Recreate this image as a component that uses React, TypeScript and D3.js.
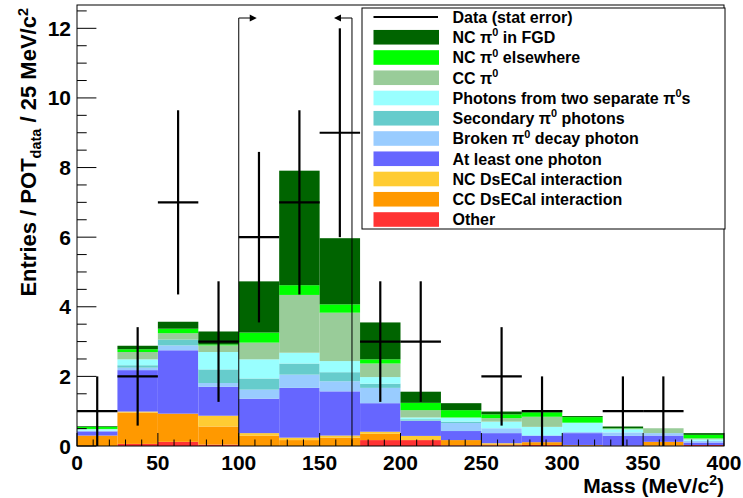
import React from 'react';
import * as d3 from 'd3';

const binLow = [0, 25, 50, 75, 100, 125, 150, 175, 200, 225, 250, 275, 300, 325, 350, 375];
const binWidth = 25;

// per-component values (stacked bottom -> top)
const other        = [0,    0.06, 0.12, 0.04, 0,    0,    0,    0.17, 0.17, 0.02, 0.02, 0.03, 0.01, 0.01, 0.01, 0.03];
const ccDsECal     = [0.30, 0.90, 0.81, 0.52, 0.30, 0.17, 0.24, 0.18, 0,    0.15, 0.03, 0.08, 0.02, 0,    0.11, 0];
const ncDsECal     = [0,    0.03, 0,    0.31, 0.07, 0.07, 0.06, 0.06, 0.12, 0,    0.03, 0,    0,    0,    0,    0];
const atLeastOne   = [0.12, 1.19, 1.82, 0.83, 0.99, 1.43, 1.27, 0.82, 0.43, 0.26, 0.29, 0.19, 0.34, 0.28, 0.18, 0.07];
const brokenDecay  = [0.02, 0.07, 0.14, 0.11, 0.26, 0.38, 0.29, 0.44, 0.01, 0.23, 0.14, 0,    0.03, 0.10, 0.07, 0.05];
const secondary    = [0,    0.07, 0.17, 0.39, 0.32, 0.32, 0.26, 0.12, 0.04, 0.04, 0,    0,    0,    0,    0,    0];
const twoSeparate  = [0.04, 0.17, 0,    0.50, 0.55, 0.31, 0.32, 0.19, 0.05, 0.11, 0.19, 0.25, 0.27, 0.09, 0,    0.04];
const ccPi0        = [0.01, 0.21, 0.18, 0.19, 0.48, 1.66, 1.39, 0.39, 0.21, 0.01, 0.10, 0.29, 0,    0.02, 0.14, 0.03];
const ncElsewhere  = [0.06, 0.08, 0.13, 0.03, 0.29, 0.28, 0.24, 0.12, 0.21, 0.21, 0.11, 0.13, 0.16, 0.01, 0,    0.10];
const ncFGD        = [0.02, 0.10, 0.20, 0.37, 1.47, 3.29, 1.90, 1.06, 0.32, 0.20, 0.08, 0.06, 0.03, 0.05, 0,    0.05];

const dataCounts = [1, 2, 7, 3, 6, 7, 9, 3, 3, 0, 2, 1, 0, 1, 1, 0];

const seriesKeys = ['other', 'ccDsECal', 'ncDsECal', 'atLeastOne', 'brokenDecay', 'secondary', 'twoSeparate', 'ccPi0', 'ncElsewhere', 'ncFGD'];
const seriesValues = [other, ccDsECal, ncDsECal, atLeastOne, brokenDecay, secondary, twoSeparate, ccPi0, ncElsewhere, ncFGD];
const seriesColors = ['#ff3333', '#ff9900', '#ffcc33', '#6666ff', '#99ccff', '#66cccc', '#99ffff', '#99cc99', '#00ff00', '#006400'];

const legendLabels = [
  'Data (stat error)',
  'NC π^0 in FGD',
  'NC π^0 elsewhere',
  'CC π^0',
  'Photons from two separate π^0s',
  'Secondary π^0 photons',
  'Broken π^0 decay photon',
  'At least one photon',
  'NC DsECal interaction',
  'CC DsECal interaction',
  'Other',
];
const legendColors = [null, '#006400', '#00ff00', '#99cc99', '#99ffff', '#66cccc', '#99ccff', '#6666ff', '#ffcc33', '#ff9900', '#ff3333'];

const xTicksMajor = [0, 50, 100, 150, 200, 250, 300, 350, 400];
const yTicksMajor = [0, 2, 4, 6, 8, 10, 12];
const cutLow = 100;
const cutHigh = 170;

const W = 743, H = 498;
const FONT = 'Liberation Sans, Arial, Helvetica, sans-serif';

function SupLabel({ text, size }: { text: string; size: number }) {
  const parts = text.split('^0');
  const out: any[] = [];
  parts.forEach((p, i) => {
    if (i > 0) {
      out.push(<tspan key={'s' + i} dy={-size * 0.42} fontSize={size * 0.68}>0</tspan>);
      out.push(<tspan key={'p' + i} dy={size * 0.42}>{p}</tspan>);
    } else {
      out.push(<tspan key={'p' + i}>{p}</tspan>);
    }
  });
  return <>{out}</>;
}

export default function App() {
  const x = d3.scaleLinear().domain([0, 400]).range([77, 724]);
  const y = d3.scaleLinear().domain([0, 12.67]).range([446, 5]);

  const table = binLow.map((lo, i) => {
    const row: any = { lo };
    seriesKeys.forEach((k, j) => (row[k] = seriesValues[j][i]));
    return row;
  });
  const stacked = d3.stack().keys(seriesKeys)(table);

  const xMinor = d3.range(0, 401, 10);
  const yMinor = d3.range(0, 12.6, 0.5);

  const legX = 362, legY = 8, legW = 363, legH = 221;
  const rowH = 20.25;

  return (
    <svg width={W} height={H} style={{ position: 'absolute', left: 0, top: 0, background: '#fff' }} fontFamily={FONT}>
      <rect x={0} y={0} width={W} height={H} fill="#fff" />
      {/* stacked histogram */}
      {stacked.map((layer, li) => (
        <g key={li} fill={seriesColors[li]}>
          {layer.map((d, bi) => {
            const h = y(d[0]) - y(d[1]);
            if (h <= 0) return null;
            return (
              <rect key={bi} x={x(binLow[bi])} y={y(d[1])} width={x(binLow[bi] + binWidth) - x(binLow[bi])} height={h} />
            );
          })}
        </g>
      ))}

      {/* cut arrows */}
      <g stroke="#000" strokeWidth={1} fill="none">
        <path d={`M${x(cutLow)},${y(0)}V18H${x(cutLow) + 12}`} />
        <path d={`M${x(cutHigh)},${y(0)}V18H${x(cutHigh) - 12}`} />
      </g>
      <path d={`M${x(cutLow) + 18},18L${x(cutLow) + 11},14.5L${x(cutLow) + 11},21.5Z`} fill="#000" />
      <path d={`M${x(cutHigh) - 18},18L${x(cutHigh) - 11},14.5L${x(cutHigh) - 11},21.5Z`} fill="#000" />

      {/* data points */}
      <g stroke="#000" strokeWidth={2.2}>
        {dataCounts.map((c, i) => {
          if (c <= 0) return null;
          const cx = x(binLow[i] + binWidth / 2);
          const e = Math.sqrt(c);
          return (
            <g key={i}>
              <line x1={x(binLow[i])} x2={x(binLow[i] + binWidth)} y1={y(c)} y2={y(c)} />
              <line x1={cx} x2={cx} y1={y(Math.max(0, c - e))} y2={y(c + e)} />
            </g>
          );
        })}
      </g>

      {/* frame */}
      <rect x={77} y={5} width={647} height={441} fill="none" stroke="#000" strokeWidth={1} />

      {/* ticks */}
      <g stroke="#000" strokeWidth={1}>
        {xMinor.map((v) => (
          <line key={'xm' + v} x1={x(v)} x2={x(v)} y1={446} y2={446 - (v % 50 === 0 ? 13 : 6.5)} />
        ))}
        {yMinor.map((v) => (
          <line key={'ym' + v} x1={77} x2={77 + (v % 2 === 0 ? 19.4 : 9.7)} y1={y(v)} y2={y(v)} />
        ))}
      </g>
      <g fontSize={21} fontWeight="bold" fill="#000">
        {xTicksMajor.map((v) => (
          <text key={'xl' + v} x={x(v)} y={469.5} textAnchor="middle">{v}</text>
        ))}
        {yTicksMajor.map((v) => (
          <text key={'yl' + v} x={71} y={y(v) + 7.5} textAnchor="end">{v}</text>
        ))}
      </g>

      {/* axis titles */}
      <text x={724} y={493} textAnchor="end" fontSize={21} fontWeight="bold">
        Mass (MeV/c<tspan dy={-8} fontSize={14}>2</tspan><tspan dy={8}>)</tspan>
      </text>
      <text transform="translate(36,8) rotate(-90)" textAnchor="end" fontSize={22} fontWeight="bold">
        Entries / POT<tspan dy={5} fontSize={14.5}>data</tspan><tspan dy={-5}> / 25 MeV/c</tspan><tspan dy={-8} fontSize={14.5}>2</tspan>
      </text>

      {/* legend */}
      <rect x={legX} y={legY} width={legW} height={legH} fill="#fff" stroke="#000" strokeWidth={1} />
      {legendLabels.map((lab, i) => {
        const cy = 17 + rowH * i;
        const col = legendColors[i];
        return (
          <g key={i}>
            {col ? (
              <rect x={373.5} y={cy - 7.3} width={65.5} height={14.6} fill={col} />
            ) : (
              <line x1={373.5} x2={438} y1={cy} y2={cy} stroke="#000" strokeWidth={2} />
            )}
            <text x={452.5} y={cy + 5.8} fontSize={16} fontWeight="bold">
              <SupLabel text={lab} size={16} />
            </text>
          </g>
        );
      })}
    </svg>
  );
}
